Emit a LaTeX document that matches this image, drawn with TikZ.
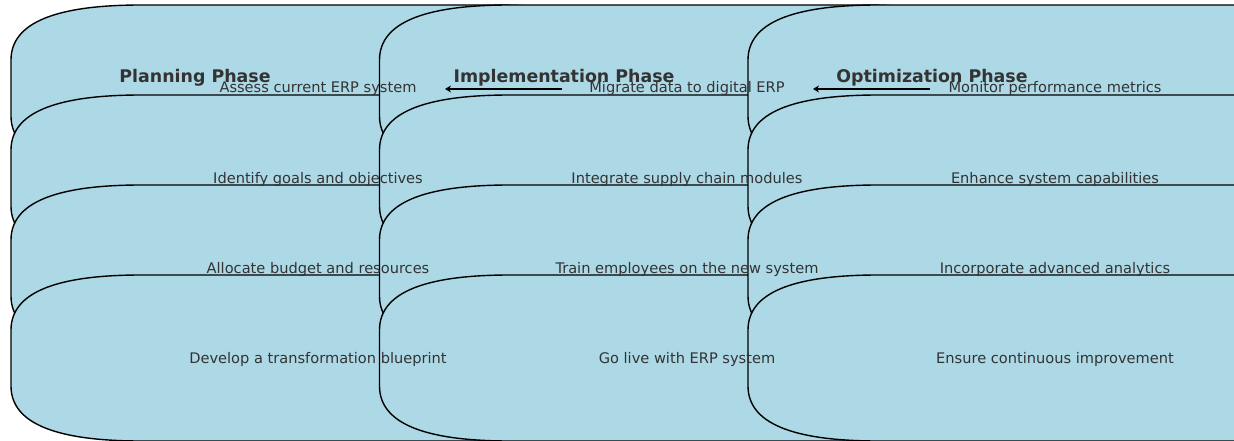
\documentclass[tikz,border=0pt]{standalone}
\usepackage{fontspec}
\setmainfont{DejaVu Sans}
\usetikzlibrary{arrows.meta}

\definecolor{boxblue}{RGB}{173,216,230}
\definecolor{inkgray}{HTML}{333333}

\tikzset{
  phasebox/.style={draw=black,line width=1.4pt,fill=boxblue},
  steptext/.style={text=inkgray,font=\fontsize{14.6}{17}\selectfont,inner sep=0pt,anchor=base},
  phasetitle/.style={text=inkgray,font=\fontsize{17.4}{20}\selectfont\bfseries,inner sep=0pt,anchor=base},
  flowarrow/.style={->,line width=2pt,>={Stealth[length=6pt,width=7pt]}}
}

\begin{document}
\begin{tikzpicture}[x=1pt,y=-1pt]
  \useasboundingbox (0,0) rectangle (1234,441);
  \clip (0,0) rectangle (1234,441);
  % stacked step boxes, one column per phase (corners: 130 wide, 55 high)
  \foreach \l in {11,379.5,748} {
    \foreach \t in {5,95,185,275} {
      \draw[phasebox] ({\l+130},\t) -- ({\l+484},\t)
        .. controls ({\l+570.7},\t) and ({\l+614},{\t+18.3}) .. ({\l+614},{\t+55})
        -- ({\l+614},{\t+111})
        .. controls ({\l+614},{\t+147.7}) and ({\l+570.7},{\t+166}) .. ({\l+484},{\t+166})
        -- ({\l+130},{\t+166})
        .. controls ({\l+43.3},{\t+166}) and (\l,{\t+147.7}) .. (\l,{\t+111})
        -- (\l,{\t+55})
        .. controls (\l,{\t+18.3}) and ({\l+43.3},\t) .. ({\l+130},\t) -- cycle;
    }
  }
  % planning
  \node[steptext] (plan1) at (318,93) {Assess current ERP system};
  \node[steptext] (plan2) at (318,183) {Identify goals and objectives};
  \node[steptext] (plan3) at (318,273) {Allocate budget and resources};
  \node[steptext] (plan4) at (318,363) {Develop a transformation blueprint};
  % implementation
  \node[steptext] (impl1) at (687,93) {Migrate data to digital ERP};
  \node[steptext] (impl2) at (687,183) {Integrate supply chain modules};
  \node[steptext] (impl3) at (687,273) {Train employees on the new system};
  \node[steptext] (impl4) at (687,363) {Go live with ERP system};
  % optimization
  \node[steptext] (opt1) at (1055,93) {Monitor performance metrics};
  \node[steptext] (opt2) at (1055,183) {Enhance system capabilities};
  \node[steptext] (opt3) at (1055,273) {Incorporate advanced analytics};
  \node[steptext] (opt4) at (1055,363) {Ensure continuous improvement};
  % arrows between phases
  \coordinate (implS) at (562,89);
  \coordinate (implE) at (445,89);
  \coordinate (optS) at (930,89);
  \coordinate (optE) at (813,89);
  \draw[flowarrow] (implS) -- (implE);
  \draw[flowarrow] (optS) -- (optE);
  % phase titles
  \node[phasetitle] (planT) at (195,83) {Planning Phase};
  \node[phasetitle] (implT) at (564,83) {Implementation Phase};
  \node[phasetitle] (optT) at (932,83) {Optimization Phase};
\end{tikzpicture}
\end{document}
